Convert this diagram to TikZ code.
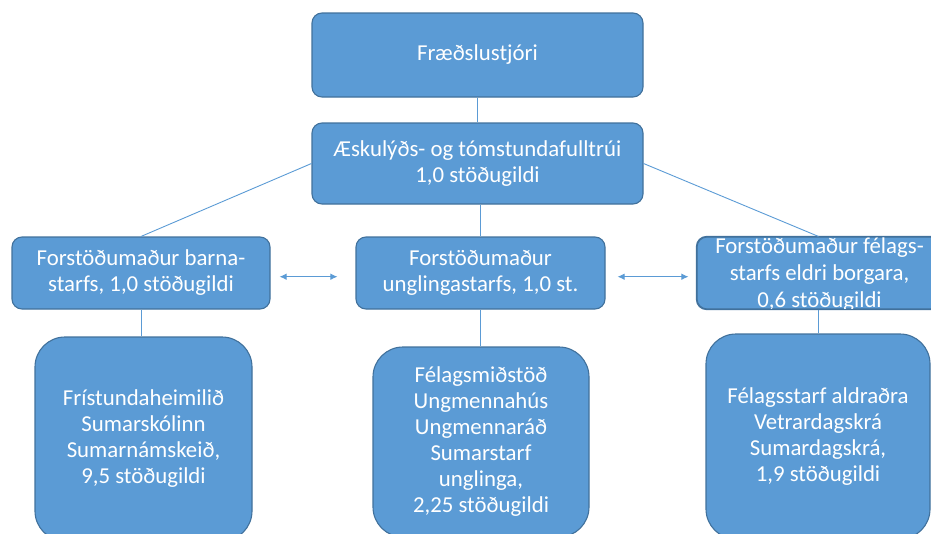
\documentclass[tikz,border=0pt]{standalone}
\usepackage{fontspec}
\setmainfont{Carlito}
\usepackage{tikz}
\usetikzlibrary{arrows.meta}

\definecolor{boxfill}{HTML}{5B9BD5}
\definecolor{boxline}{HTML}{41719C}
\definecolor{linkcol}{HTML}{5B9BD5}

\tikzset{
	box/.style={draw=boxline, line width=1.1pt, fill=boxfill, rounded corners=10pt, text=white, align=center, inner sep=0pt, font=\fontsize{22.8}{26}\selectfont},
	bigbox/.style={box, rounded corners=30pt},
	link/.style={draw=linkcol, line width=0.9pt}
}

\begin{document}
\begin{tikzpicture}[>={Latex[length=7pt,width=6.5pt]}, x=1pt, y=-1pt]
	\useasboundingbox (0,0) rectangle (931,533);
	%\draw [help lines] (0,0) grid (931,533);
	\node [box, minimum width=331pt, minimum height=84pt] (fraedsla) at (477.5,55) {Fræðslustjóri};
	\node [box, minimum width=331pt, minimum height=81pt] (fulltrui) at (477.5,163.5) {Æskulýðs- og tómstundafulltrúi\\1,0 stöðugildi};
	\node [box, minimum width=258pt, minimum height=72pt] (barna) at (141,273) {Forstöðumaður barna-\\starfs, 1,0 stöðugildi};
	\node [box, minimum width=249pt, minimum height=72pt] (ungl) at (480.5,273) {Forstöðumaður\\unglingastarfs, 1,0 st.};
	\node [box, minimum width=243pt, minimum height=72pt] (eldri) at (818.5,273) {};
	\begin{scope}
		\clip [rounded corners=10pt] (eldri.south west) rectangle (eldri.north east);
		\node [text=white, align=center, font=\fontsize{22.8}{27}\selectfont] (eldritxt) at (819.5,275) {Forstöðumaður félags-\\starfs eldri borgara,\\0,6 stöðugildi};
	\end{scope}
	\draw [draw=boxline, line width=1.1pt, rounded corners=10pt] (eldri.south west) rectangle (eldri.north east);
	\node [bigbox, minimum width=217pt, minimum height=204pt] (fristund) at (143.5,439) {Frístundaheimilið\\Sumarskólinn\\Sumarnámskeið,\\9,5 stöðugildi};
	\node [bigbox, minimum width=216pt, minimum height=190pt] (felagsmid) at (481,442) {Félagsmiðstöð\\Ungmennahús\\Ungmennaráð\\Sumarstarf\\unglinga,\\2,25 stöðugildi};
	\node [bigbox, minimum width=224pt, minimum height=205pt] (aldradra) at (818,436.5) {Félagsstarf aldraðra\\Vetrardagskrá\\Sumardagskrá,\\1,9 stöðugildi};

	\draw [link] (fraedsla) -- (fulltrui);
	\draw [link] (fulltrui.south -| ungl.north) -- (ungl.north);
	\draw [link] (fulltrui.west) -- (barna.north);
	\draw [link] (fulltrui.east) -- (eldri.north);
	\draw [link] (barna.south) -- (barna.south |- fristund.north);
	\draw [link] (ungl.south) -- (ungl.south |- felagsmid.north);
	\draw [link] (eldri.south) -- (eldri.south |- aldradra.north);
	\draw [link, <->, shorten <=9pt, shorten >=18pt] ([yshift=-3.7pt]barna.east) -- ([yshift=-3.7pt]ungl.west);
	\draw [link, <->, shorten <=12pt, shorten >=8pt] ([yshift=-3.7pt]ungl.east) -- ([yshift=-3.7pt]eldri.west);
\end{tikzpicture}
\end{document}
